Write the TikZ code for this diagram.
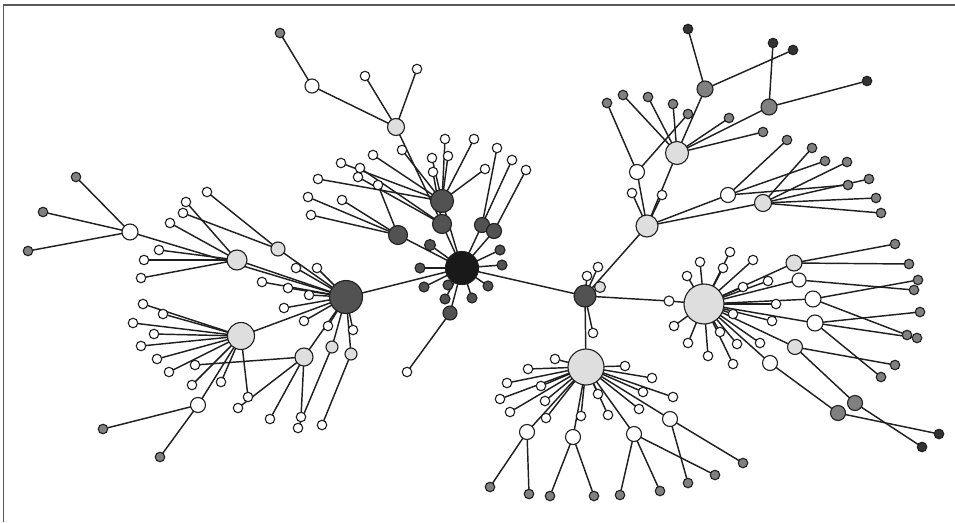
\documentclass[tikz,border=0pt]{standalone}
\usetikzlibrary{backgrounds}
\tikzset{
 nd/.style={circle,draw=black!88,line width=1.1pt,inner sep=0pt,outer sep=0pt},
 wt/.style={nd,fill=white,minimum size=#1}, wt/.default=9.5pt,
 lt/.style={nd,fill=black!13,minimum size=#1}, lt/.default=9.5pt,
 gy/.style={nd,fill=black!50,minimum size=#1}, gy/.default=9.5pt,
 bk/.style={nd,fill=black!80,minimum size=#1}, bk/.default=9.5pt,
 dg/.style={nd,fill=black!68,minimum size=#1}, dg/.default=10pt,
 ed/.style={line width=1.45pt,draw=black!88},
 frame/.style={line width=1.4pt,draw=black!65}
}
\newcommand{\fanout}[3]{\foreach \x/\y [count=\i] in {#3} {\node[#2] (#1l\i) at (\x,\y) {}; \begin{pgfonlayer}{background}\draw[ed] (#1) -- (#1l\i);\end{pgfonlayer}}}
\begin{document}
\begin{tikzpicture}[x=1pt,y=-1pt]
\useasboundingbox (0,0) rectangle (955,522);
\draw[frame] (3.5,522) -- (3.5,5) -- (955,5);
% hubs
\node[bk=33pt,fill=black!90] (h0) at (462,268) {};
\node[dg=33pt] (h1) at (346,297) {};
\node[dg=22pt] (h2) at (585,296) {};
\node[lt=40pt] (h3) at (704,304) {};
\node[lt=36pt] (h4) at (586,367) {};
\node[lt=22pt] (h5) at (647,226) {};
\node[lt=23pt] (h6) at (677,153) {};
\node[lt=20pt] (l1) at (237,260) {};
\node[lt=27pt] (l2) at (241,336) {};
\node[wt=16pt] (l3) at (130,232) {};
\node[lt=18pt] (m1) at (304,357) {};
\node[lt=14pt] (p1) at (278,249) {};
\node[lt=12pt] (q1) at (332,347) {};
\node[lt=12pt] (q2) at (351,354) {};
\node[wt=15pt] (s1) at (198,405) {};
\node[lt=17pt] (u1) at (396,127) {};
\node[wt=14pt] (u2) at (312,86) {};
\node[dg=23pt] (d1) at (442,201) {};
\node[dg=19pt] (d2) at (442,224) {};
\node[dg=19pt] (d3) at (398,235) {};
\node[dg=15pt] (d4) at (482,225) {};
\node[dg=15pt] (d5) at (494,231) {};
\node[dg=11pt] (d6) at (430,245) {};
\node[dg=14pt] (d7) at (450,313) {};
\node[wt=15pt] (a1) at (728,195) {};
\node[lt=17pt] (b1) at (763,203) {};
\node[lt=16pt] (c1) at (794,263) {};
\node[wt=14pt] (c2) at (799,280) {};
\node[wt=16pt] (c3) at (813,299) {};
\node[wt=16pt] (c4) at (815,323) {};
\node[lt=15pt] (c5) at (795,347) {};
\node[wt=15pt] (c6) at (770,363) {};
\node[gy=15pt] (g1) at (855,403) {};
\node[gy=15pt] (g2) at (838,413) {};
\node[gy=16pt] (v1) at (705,89) {};
\node[gy=16pt] (v2) at (769,107) {};
\node[wt=10pt] (x1) at (669,301) {};
\node[wt=15pt] (x2) at (637,172) {};
\node[wt=15pt] (i1) at (527,432) {};
\node[wt=15pt] (j1) at (573,437) {};
\node[wt=15pt] (k1) at (634,434) {};
\node[wt=15pt] (l4) at (670,419) {};
\node[lt=11pt] (h2x) at (600,287) {};
\begin{scope}[on background layer]
\draw[ed] (h0) -- (h1);
\draw[ed] (h0) -- (h2);
\foreach \n in {d1,d2,d3,d4,d5,d6,d7} {\draw[ed] (h0) -- (\n);}
\draw[ed] (d2) -- (u1);
\draw[ed] (u1) -- (u2);
\foreach \n in {l1,l2,l3,m1,p1,q1,q2} {\draw[ed] (h1) -- (\n);}
\draw[ed] (l2) -- (s1);
\foreach \n in {h4,h5,x1,h2x} {\draw[ed] (h2) -- (\n);}
\draw[ed] (x1) -- (h3);
\foreach \n in {h6,a1,b1,x2} {\draw[ed] (h5) -- (\n);}
\draw[ed] (h6) -- (v1);
\draw[ed] (h6) -- (v2);
\foreach \n in {c1,c2,c3,c4,c5,c6} {\draw[ed] (h3) -- (\n);}
\draw[ed] (c5) -- (g1);
\draw[ed] (c6) -- (g2);
\foreach \n in {i1,j1,k1,l4} {\draw[ed] (h4) -- (\n);}
\end{scope}
% leaves
\fanout{h0}{dg}{420/268,424/287,448/285,445/299,472/298,488/286,502/265,500/250}
\fanout{d1}{wt}{318/179,341/163,373/155,402/150,432/158,445/139,448/156,474/139,485/169}
\fanout{d2}{wt}{358/177,360/168,433/172}
\fanout{d3}{wt}{378/185,308/197,342/200,311/215}
\fanout{d4}{wt}{512/160,497/148}
\fanout{d5}{wt}{526/170}
\fanout{d7}{wt}{407/372}
\fanout{u1}{wt}{365/76,417/69}
\fanout{u2}{gy}{280/33}
\fanout{h1}{wt}{296/268,317/268,262/282,288/288,309/295,284/308,304/321,328/326,353/330}
\fanout{p1}{wt}{207/192,183/213}
\fanout{l1}{wt}{186/202,170/223,159/250,144/260,141/278}
\fanout{l3}{gy}{76/177,43/212,28/251}
\fanout{l2}{wt}{143/304,163/314,133/323,154/334,141/346,157/359,169/372,192/385,221/382,248/397}
\fanout{s1}{gy}{103/429,160/457}
\fanout{m1}{wt}{195/365,238/408,270/419,301/417}
\fanout{q1}{wt}{298/428}
\fanout{q2}{wt}{322/425}
\fanout{h2}{wt}{587/276,598/267,593/333}
\fanout{h5}{wt}{632/193,662/195}
\fanout{x2}{gy}{607/103,688/114}
\fanout{h6}{gy}{623/95,648/97,673/104,729/118,763/132}
\fanout{v1}{bk}{688/29,793/50}
\fanout{v2}{bk}{773/43,867/81}
\fanout{a1}{gy}{787/140,825/161,848/185}
\fanout{b1}{gy}{812/148,847/162,869/179,876/198,881/213}
\fanout{h3}{wt}{700/262,687/276,730/252,723/268,753/260,743/287,768/281,776/304,733/314,772/321,720/332,737/344,760/343,674/326,688/343,708/356,733/364}
\fanout{c1}{gy}{895/244,909/264}
\fanout{c2}{gy}{914/290}
\fanout{c3}{gy}{918/280,907/335}
\fanout{c4}{gy}{920/312,917/338,881/377}
\fanout{c5}{gy}{895/365}
\fanout{g1}{bk}{922/447}
\fanout{g2}{bk}{939/434}
\fanout{h4}{wt}{555/359,528/369,507/383,541/386,500/399,545/401,510/412,546/418,581/416,598/394,608/415,625/366,652/378,643/392,673/397,639/409}
\fanout{i1}{gy}{490/487,529/494}
\fanout{j1}{gy}{550/496,594/496}
\fanout{k1}{gy}{620/495,660/491,715/475}
\fanout{l4}{gy}{688/483,743/463}
\end{tikzpicture}
\end{document}
